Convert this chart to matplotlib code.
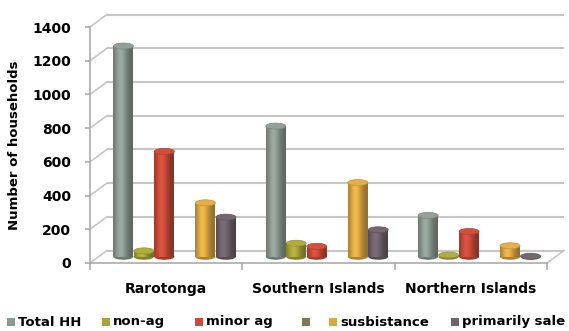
import matplotlib.pyplot as plt
import numpy as np
from matplotlib.patches import Ellipse, Rectangle

# Households by island group and type of agricultural activity
regions = ["Rarotonga", "Southern Islands", "Northern Islands"]
series_names = ["Total HH", "non-ag", "minor ag", "", "susbistance", "primarily sale"]
total_hh = [1250, 775, 245]
non_ag = [35, 80, 10]
minor_ag = [625, 62, 150]
unnamed = [0, 0, 0]
subsistence = [320, 440, 65]
primarily_sale = [235, 160, 3]
colors = ["#8b9a91", "#a9a43c", "#c94b39", "#7c7c50", "#dba743", "#6f626a"]

series = [total_hh, non_ag, minor_ag, unnamed, subsistence, primarily_sale]

W, H = 569, 331
fig = plt.figure(figsize=(W / 100, H / 100), dpi=100)
# front plane of the 3d box
ax = fig.add_axes([90 / W, 1 - 263 / H, (547 - 90) / W, (263 - 27) / H])
ax.set_xlim(0, 3)
ax.set_ylim(0, 1400)

# depth of the box in data units (17px right, 12.5px up)
px_x = 3 / (547 - 90)
px_y = 1400 / (263 - 27)
dep_x = 17 * px_x
dep_y = 12.5 * px_y

grid_col = "#c6c6c6"
for v in range(0, 1401, 200):
    ax.plot([dep_x, 3 + dep_x], [v + dep_y, v + dep_y], color=grid_col, lw=1.5,
            clip_on=False, zorder=1, solid_capstyle="butt")
    ax.plot([0, dep_x], [v, v + dep_y], color=grid_col, lw=1.2, clip_on=False, zorder=1)
ax.plot([3, 3 + dep_x], [0, dep_y], color=grid_col, lw=1.2, clip_on=False, zorder=1)


def shade(rgb, n=40):
    t = np.linspace(0, 1, n)
    s = 0.66 + 0.45 * np.exp(-((t - 0.38) / 0.33) ** 2)
    img = np.clip(np.outer(s, rgb), 0, 1)
    return img[np.newaxis, :, :]


slot = 20.5 * px_x
bw = 20 * px_x
ell_h = 6 * px_y
for i, (vals, col) in enumerate(zip(series, colors)):
    rgb = np.array(plt.matplotlib.colors.to_rgb(col))
    for g, v in enumerate(vals):
        if series_names[i] == "":
            continue
        xc = g + 0.5 + (i - 2.5) * slot + dep_x / 2
        y0 = dep_y / 2
        y1 = v + dep_y / 2
        z = 3 + g * 0.01
        ax.add_patch(Ellipse((xc, y0), bw, ell_h, facecolor=rgb * 0.78,
                             edgecolor="none", clip_on=False, zorder=z))
        if v > 0:
            im = ax.imshow(shade(rgb), extent=[xc - bw / 2, xc + bw / 2, y0, y1],
                           aspect="auto", interpolation="bilinear", zorder=z + 0.001)
            im.set_clip_on(False)
        ax.add_patch(Ellipse((xc, y1), bw, ell_h, facecolor=np.clip(rgb * 1.05, 0, 1),
                             edgecolor=rgb * 0.88, lw=0.5, clip_on=False, zorder=z + 0.002))

ax.set_xlim(0, 3)
ax.set_ylim(0, 1400)

for side in ["top", "right"]:
    ax.spines[side].set_visible(False)
for side in ["left", "bottom"]:
    ax.spines[side].set_color("#acacac")
    ax.spines[side].set_linewidth(1.2)
    ax.spines[side].set_zorder(2)

ax.set_yticks(range(0, 1401, 200))
ax.tick_params(axis="y", length=3.5, color="#acacac", width=1.2, pad=10,
               labelsize=10)
ax.set_xticks([0.5, 1.5, 2.5])
ax.set_xticklabels(regions)
ax.set_xticks([0, 1, 2, 3], minor=True)
ax.tick_params(axis="x", which="major", length=0, pad=14, labelsize=10)
ax.tick_params(axis="x", which="minor", length=5, color="#acacac", width=1.2)
for lab in ax.get_xticklabels() + ax.get_yticklabels():
    lab.set_fontweight("bold")
ax.patch.set_alpha(0)

fig.text(15 / W, 1 - 145 / H, "Number of households", rotation=90, ha="center",
         va="center", fontsize=9.5, fontweight="bold")

# legend row along the bottom edge
leg_x = [7, 102, 195, 302, 329, 451]
leg_y = 1 - 322 / H
for x, name, col in zip(leg_x, series_names, colors):
    fig.patches.append(Rectangle((x / W, leg_y - 4 / H), 8 / W, 8 / H, facecolor=col,
                                 edgecolor="none", transform=fig.transFigure))
    fig.text((x + 11) / W, leg_y, name, ha="left", va="center", fontsize=9.5,
             fontweight="bold")

fig.savefig("out.png", dpi=100)
